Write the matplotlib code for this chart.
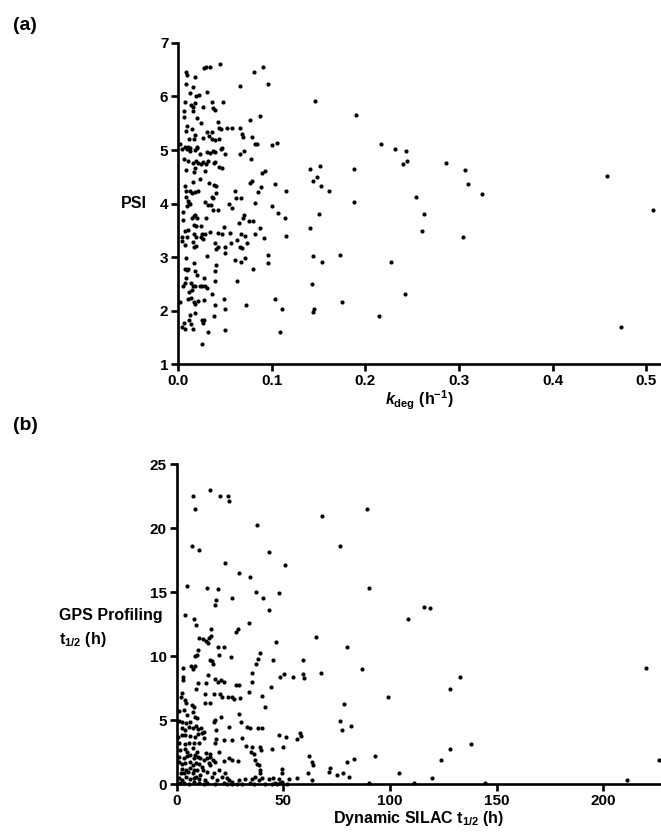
import matplotlib
matplotlib.use("Agg")
import matplotlib.pyplot as plt

plt.rcParams['font.family'] = ['Liberation Sans', 'DejaVu Sans']
plt.rcParams['font.weight'] = 'bold'
plt.rcParams['mathtext.fontset'] = 'custom'
plt.rcParams['mathtext.rm'] = 'Liberation Sans:bold'
plt.rcParams['mathtext.it'] = 'Liberation Sans:italic:bold'
plt.rcParams['mathtext.bf'] = 'Liberation Sans:bold'

# ---- panel (a): kdeg vs PSI ----
kdeg_top = [0.008, 0.010, 0.018, 0.028, 0.030, 0.034, 0.045, 0.081, 0.091, 0.0085,
            0.016, 0.096, 0.0665, 0.013, 0.019, 0.022, 0.031, 0.007, 0.014, 0.018,
            0.016, 0.027, 0.036, 0.037, 0.039, 0.048, 0.006, 0.006, 0.016, 0.020,
            0.025, 0.077, 0.088, 0.010, 0.0085, 0.015, 0.043, 0.044, 0.046, 0.052,
            0.058, 0.0665, 0.068, 0.069, 0.031, 0.036, 0.0185, 0.017, 0.012, 0.027,
            0.033, 0.036, 0.040, 0.044, 0.079, 0.082, 0.084, 0.100, 0.106, 0.0025,
            0.007, 0.011, 0.013, 0.020, 0.047]
psi_top = [6.46, 6.41, 6.36, 6.54, 6.56, 6.56, 6.60, 6.46, 6.55, 6.23,
           6.17, 6.23, 6.19, 6.07, 6.00, 6.03, 6.09, 5.90, 5.85, 5.87,
           5.81, 5.81, 5.89, 5.79, 5.75, 5.90, 5.73, 5.62, 5.72, 5.59,
           5.51, 5.56, 5.63, 5.45, 5.36, 5.40, 5.52, 5.42, 5.40, 5.42,
           5.42, 5.42, 5.29, 5.25, 5.34, 5.34, 5.28, 5.21, 5.20, 5.23,
           5.26, 5.20, 5.19, 5.21, 5.25, 5.12, 5.11, 5.09, 5.14, 5.12,
           5.05, 5.05, 5.03, 5.06, 5.03]

kdeg_mid = [0.004, 0.0096, 0.013, 0.018, 0.020, 0.024, 0.031, 0.0345, 0.037, 0.040,
            0.046, 0.0505, 0.0665, 0.070, 0.006, 0.011, 0.0157, 0.019, 0.021, 0.025,
            0.027, 0.030, 0.032, 0.038, 0.040, 0.0434, 0.047, 0.078, 0.0085, 0.0167,
            0.018, 0.029, 0.090, 0.093, 0.0157, 0.024, 0.0078, 0.033, 0.038, 0.0405,
            0.079, 0.077, 0.089, 0.103, 0.0085, 0.013, 0.015, 0.0185, 0.021, 0.036,
            0.037, 0.0405, 0.061, 0.085, 0.1156, 0.0085, 0.011, 0.012, 0.0096, 0.013,
            0.0285, 0.032, 0.0356, 0.037, 0.054, 0.062, 0.067, 0.058, 0.0825, 0.100,
            0.107, 0.005, 0.005, 0.0167, 0.0185, 0.020, 0.015, 0.030, 0.0427, 0.070,
            0.069, 0.065, 0.0754, 0.080, 0.1145, 0.0167, 0.019, 0.025, 0.0078, 0.011,
            0.0043, 0.0096, 0.0167, 0.019, 0.026, 0.029, 0.034, 0.0427, 0.049, 0.047,
            0.056, 0.0676, 0.072, 0.082, 0.088, 0.1156, 0.0043, 0.0078, 0.0157, 0.0167,
            0.019, 0.025, 0.027, 0.039, 0.0427, 0.041, 0.0505, 0.050, 0.057, 0.063,
            0.0665, 0.068, 0.0736, 0.0914, 0.096]
psi_mid = [5.01, 5.02, 4.98, 5.00, 5.04, 4.93, 4.97, 4.95, 4.98, 4.97,
           5.02, 4.93, 4.93, 4.98, 4.84, 4.79, 4.76, 4.80, 4.76, 4.73,
           4.78, 4.74, 4.79, 4.76, 4.78, 4.69, 4.66, 4.84, 4.63, 4.59,
           4.66, 4.61, 4.57, 4.60, 4.41, 4.45, 4.32, 4.38, 4.35, 4.32,
           4.43, 4.38, 4.30, 4.36, 4.24, 4.23, 4.20, 4.22, 4.23, 4.13,
           4.10, 4.20, 4.24, 4.22, 4.23, 4.12, 4.04, 4.01, 3.95, 3.99,
           4.03, 3.98, 3.97, 3.87, 3.99, 4.10, 4.10, 3.92, 4.01, 3.95,
           3.82, 3.85, 3.70, 3.76, 3.78, 3.73, 3.72, 3.72, 3.87, 3.79,
           3.72, 3.64, 3.68, 3.68, 3.72, 3.59, 3.58, 3.58, 3.49, 3.51,
           3.37, 3.37, 3.43, 3.38, 3.43, 3.43, 3.46, 3.45, 3.56, 3.43,
           3.45, 3.43, 3.40, 3.43, 3.54, 3.40, 3.29, 3.23, 3.28, 3.18,
           3.21, 3.37, 3.34, 3.26, 3.18, 3.15, 3.18, 3.07, 3.27, 3.31,
           3.18, 3.16, 3.26, 3.36, 3.04]

kdeg_low = [0.0085, 0.0167, 0.031, 0.041, 0.040, 0.061, 0.0676, 0.072, 0.096, 0.080,
            0.007, 0.0096, 0.011, 0.018, 0.020, 0.0085, 0.007, 0.005, 0.014, 0.016,
            0.0185, 0.024, 0.026, 0.029, 0.031, 0.028, 0.039, 0.063, 0.012, 0.015,
            0.036, 0.011, 0.014, 0.0167, 0.0185, 0.021, 0.028, 0.039, 0.049, 0.0025,
            0.0505, 0.0726, 0.104, 0.111, 0.013, 0.018, 0.038, 0.012, 0.0256, 0.028,
            0.027, 0.006, 0.0043, 0.0078, 0.014, 0.016, 0.032, 0.0505, 0.109, 0.0256]
psi_low = [2.99, 2.89, 3.02, 2.86, 2.74, 2.94, 2.91, 2.99, 2.88, 2.78,
           2.77, 2.76, 2.78, 2.74, 2.66, 2.61, 2.52, 2.45, 2.51, 2.46,
           2.45, 2.45, 2.45, 2.45, 2.43, 2.60, 2.55, 2.55, 2.35, 2.38,
           2.30, 2.22, 2.24, 2.15, 2.13, 2.17, 2.20, 2.10, 2.22, 2.16,
           2.03, 2.10, 2.22, 2.02, 1.92, 1.95, 1.90, 1.83, 1.83, 1.82,
           1.77, 1.77, 1.69, 1.66, 1.74, 1.65, 1.60, 1.64, 1.60, 1.38]

kdeg_fast = [0.146, 0.141, 0.152, 0.144, 0.1486, 0.153, 0.161, 0.150, 0.141, 0.144,
             0.154, 0.173, 0.1427, 0.145, 0.1437, 0.190, 0.2163, 0.2316, 0.2437, 0.2444,
             0.2405, 0.1875, 0.286, 0.3066, 0.3098, 0.3244, 0.188, 0.2537, 0.2625, 0.2604,
             0.304, 0.227, 0.1753, 0.2426, 0.2148, 0.4575, 0.5066, 0.4725]
psi_fast = [5.92, 4.64, 4.70, 4.43, 4.49, 4.32, 4.24, 3.81, 3.54, 3.01,
            2.91, 3.03, 2.50, 2.02, 1.98, 5.66, 5.12, 5.02, 4.98, 4.79,
            4.73, 4.65, 4.75, 4.62, 4.37, 4.18, 4.03, 4.13, 3.80, 3.49,
            3.38, 2.91, 2.16, 2.31, 1.90, 4.51, 3.87, 1.70]

# ---- panel (b): Dynamic SILAC t1/2 vs GPS profiling t1/2 ----
silac_top = [7.5, 15.5, 20.4, 23.9, 24.7, 8.6, 68.3, 37.8, 7.2, 10.4,
             43.1, 22.5, 50.9, 29.2, 34.2, 4.8, 14.3, 19.5, 18.4, 17.8,
             25.8, 37.3, 40.3, 48.0, 43.1, 3.75, 7.9, 9.0, 16.1, 28.9, 33.8]
gps_top = [22.5, 23.0, 22.5, 22.5, 22.1, 21.5, 20.9, 20.2, 18.6, 18.3,
           18.1, 17.3, 17.1, 16.5, 16.2, 15.5, 15.3, 15.2, 14.4, 14.0,
           14.5, 15.0, 14.5, 14.9, 13.6, 13.2, 12.9, 12.4, 12.1, 12.1, 12.55]

silac_long = [89.1, 76.5, 90.1, 116.1, 118.6, 108.6, 79.8, 86.7, 132.6, 128.1,
              99.2, 78.4, 76.5, 81.7, 77.5, 219.8, 138.1, 128.1, 124.1, 92.8,
              83.1, 80.0, 226.2, 71.9, 75.3, 77.8, 80.8, 104.3, 119.5, 90.3,
              111.2, 144.5, 211.2,
              57.8, 58.3, 56.5, 62.2, 63.6, 64.0, 71.4, 61.4, 56.3, 63.3]
gps_long = [21.5, 18.6, 15.3, 13.8, 13.75, 12.9, 10.7, 9.0, 8.4, 7.4,
            6.77, 6.25, 4.92, 4.53, 4.19, 9.09, 3.15, 2.71, 1.90, 2.19,
            1.98, 1.74, 1.85, 1.22, 0.70, 0.83, 0.57, 0.89, 0.50, 0.08,
            0.10, 0.08, 0.29,
            4.0, 3.75, 3.5, 2.2, 1.7, 1.5, 0.96, 0.88, 0.45, 0.31]

silac_mid = [10.6, 12.5, 13.7, 14.5, 15.3, 15.9, 27.7, 46.4, 65.3, 19.2,
             22.3, 20.0, 10.1, 9.4, 8.6, 25.5, 39.0, 38.0, 37.2, 15.6,
             16.7, 17.2, 45.0, 59.3, 67.6, 6.7, 7.5, 8.6, 3.1, 35.2,
             50.4, 48.4, 54.7, 59.1, 59.7, 2.8, 2.8, 14.8, 10.1, 13.7,
             18.0, 19.5, 20.8, 22.3, 35.2, 9.0, 44.2, 27.8, 29.2]
gps_mid = [11.4, 11.3, 11.2, 11.0, 11.4, 11.6, 11.9, 11.1, 11.5, 10.7,
           10.7, 10.1, 10.5, 10.1, 10.0, 9.9, 10.2, 9.8, 9.4, 9.7,
           9.6, 9.4, 9.7, 9.7, 8.7, 9.2, 9.0, 9.2, 9.1, 8.7,
           8.6, 8.4, 8.4, 8.6, 8.3, 8.4, 8.1, 8.5, 7.9, 7.9,
           8.2, 8.0, 8.1, 8.0, 8.0, 7.4, 7.6, 7.7, 7.7]

silac_low = [2.5, 2.2, 4.0, 4.4, 13.4, 13.1, 15.5, 17.6, 20.5, 21.2,
             24.0, 25.9, 27.0, 29.8, 34.0, 40.0, 41.2, 3.3, 1.2, 4.8,
             7.2, 8.0, 7.5, 8.4, 9.5, 0.9, 2.5, 4.4, 6.4, 17.3,
             18.1, 20.9, 29.0, 30.3, 2.5, 4.0, 5.6, 7.5, 9.0, 10.0,
             11.5, 12.6, 24.4, 33.0, 34.5, 38.1, 40.0, 47.8, 51.4, 0.6,
             2.5, 4.0, 6.4, 8.4, 10.0, 11.9, 12.6, 18.4, 18.6, 22.0,
             25.9, 30.6, 0.9, 4.0, 5.6, 8.0, 10.3, 17.8, 44.7, 49.8,
             1.7, 3.7, 4.8, 7.5, 9.5, 13.7, 15.8, 19.7, 32.5, 35.3,
             35.0, 36.1, 39.2, 39.7, 0.9, 3.3, 4.8, 6.4, 8.0, 8.7,
             10.0, 11.1, 12.6, 14.2, 15.8, 16.9, 24.7, 25.9, 28.7, 36.9,
             0.9, 2.5, 4.0, 6.4, 7.5, 9.0, 10.3, 11.9, 15.0, 15.8,
             17.8, 22.0, 37.6, 38.7, 2.5, 4.4, 6.4, 8.0, 9.5, 12.2,
             14.2, 19.7, 39.2, 49.4, 2.2, 3.3, 5.3, 7.5, 11.1, 17.3,
             22.5, 39.2, 49.4, 0.9, 2.5, 4.4, 6.4, 8.0, 9.0, 10.3,
             13.4, 16.5, 18.9, 21.2, 23.6, 24.4, 25.9, 29.0, 31.9, 35.3,
             36.9, 38.4, 40.0, 43.1, 45.1, 47.8, 49.4, 52.5, 1.7, 3.3,
             5.6, 8.0, 10.3, 12.6, 14.2, 17.8, 22.0, 23.6, 25.9, 28.3,
             30.6, 34.5, 36.1, 41.2, 44.7, 46.2, 47.0, 48.6, 51.7]
gps_low = [7.14, 6.82, 6.56, 6.35, 7.03, 6.30, 6.30, 7.03, 7.03, 6.82,
           6.82, 6.77, 6.61, 6.69, 7.21, 6.88, 6.04, 5.78, 5.73, 5.39,
           6.17, 6.04, 5.65, 5.26, 5.13, 4.95, 4.87, 4.74, 4.87, 4.87,
           5.00, 5.21, 5.47, 4.87, 4.35, 4.22, 4.48, 4.40, 4.53, 4.27,
           4.35, 4.09, 4.43, 4.43, 4.35, 4.35, 4.35, 3.83, 3.70, 3.70,
           3.83, 3.83, 3.75, 3.70, 3.91, 3.96, 3.57, 4.22, 3.49, 3.44,
           3.44, 3.57, 3.23, 3.13, 3.18, 3.23, 3.18, 3.23, 2.71, 2.92,
           2.66, 2.71, 2.53, 2.79, 2.53, 2.45, 2.34, 2.53, 2.97, 2.86,
           2.53, 2.34, 2.92, 2.66, 2.14, 2.01, 2.19, 2.27, 2.01, 2.27,
           2.14, 2.01, 1.88, 2.01, 2.14, 1.88, 2.01, 1.88, 1.82, 1.88,
           1.74, 1.56, 1.61, 1.74, 1.48, 1.67, 1.56, 1.35, 1.67, 1.48,
           1.74, 1.82, 1.56, 1.48, 1.15, 1.09, 1.22, 1.09, 1.09, 1.09,
           0.96, 1.09, 1.09, 1.15, 0.83, 0.89, 0.96, 0.83, 0.70, 0.83,
           0.83, 0.89, 0.89, 0.44, 0.31, 0.52, 0.36, 0.44, 0.52, 0.36,
           0.31, 0.52, 0.31, 0.52, 0.44, 0.31, 0.18, 0.31, 0.36, 0.36,
           0.52, 0.31, 0.44, 0.36, 0.44, 0.36, 0.18, 0.36, 0.05, 0.10,
           0.00, 0.18, 0.10, 0.00, 0.05, 0.00, 0.05, 0.00, 0.00, 0.00,
           0.00, 0.05, 0.00, 0.00, 0.00, 0.10, 0.00, 0.05, 0.00]

kdeg = kdeg_top + kdeg_mid + kdeg_low + kdeg_fast
psi = psi_top + psi_mid + psi_low + psi_fast
silac = silac_top + silac_long + silac_mid + silac_low
gps = gps_top + gps_long + gps_mid + gps_low


def style_axes(ax):
    for side in ['top', 'right']:
        ax.spines[side].set_visible(False)
    for side in ['left', 'bottom']:
        ax.spines[side].set_linewidth(1.9)
    ax.tick_params(direction='out', length=5, width=1.9, labelsize=11, pad=2)
    for lab in ax.get_xticklabels() + ax.get_yticklabels():
        lab.set_fontweight('bold')


fig = plt.figure(figsize=(6.61, 8.38), dpi=100)

# panel (a)
ax1 = fig.add_axes([0.2693, 0.5656, 0.7307, 0.3831])
ax1.scatter(kdeg, psi, s=9, c='black', linewidths=0, clip_on=False)
ax1.set_xlim(0, 0.5155)
ax1.set_ylim(1, 7)
ax1.set_xticks([0.0, 0.1, 0.2, 0.3, 0.4, 0.5])
ax1.set_xticklabels(['0.0', '0.1', '0.2', '0.3', '0.4', '0.5'])
ax1.set_yticks([1, 2, 3, 4, 5, 6, 7])
style_axes(ax1)
ax1.set_xlabel(r'$\mathit{k}_{\mathrm{deg}}$ (h$^{\mathrm{-1}}$)', fontsize=11.5,
               fontweight='bold', labelpad=1)
ax1.text(-0.064, 4.0, 'PSI', transform=ax1.get_yaxis_transform(), ha='right',
         va='center', fontsize=11.5, fontweight='bold')

# panel (b)
ax2 = fig.add_axes([0.2673, 0.0644, 0.7327, 0.3819])
ax2.scatter(silac, gps, s=9, c='black', linewidths=0, clip_on=False)
ax2.set_xlim(0, 227)
ax2.set_ylim(0, 25)
ax2.set_xticks([0, 50, 100, 150, 200])
ax2.set_yticks([0, 5, 10, 15, 20, 25])
style_axes(ax2)
ax2.set_xlabel(r'Dynamic SILAC t$_{\mathrm{1/2}}$ (h)', fontsize=11.5,
               fontweight='bold', labelpad=1)
ax2.text(-0.243, 13.2, 'GPS Profiling', transform=ax2.get_yaxis_transform(),
         ha='left', va='center', fontsize=11.5, fontweight='bold')
ax2.text(-0.243, 11.3, r't$_{\mathrm{1/2}}$ (h)', transform=ax2.get_yaxis_transform(),
         ha='left', va='center', fontsize=11.5, fontweight='bold')

fig.text(0.019, 0.970, '(a)', fontsize=14, fontweight='bold', va='center')
fig.text(0.019, 0.492, '(b)', fontsize=14, fontweight='bold', va='center')

fig.savefig('out.png', dpi=100)
